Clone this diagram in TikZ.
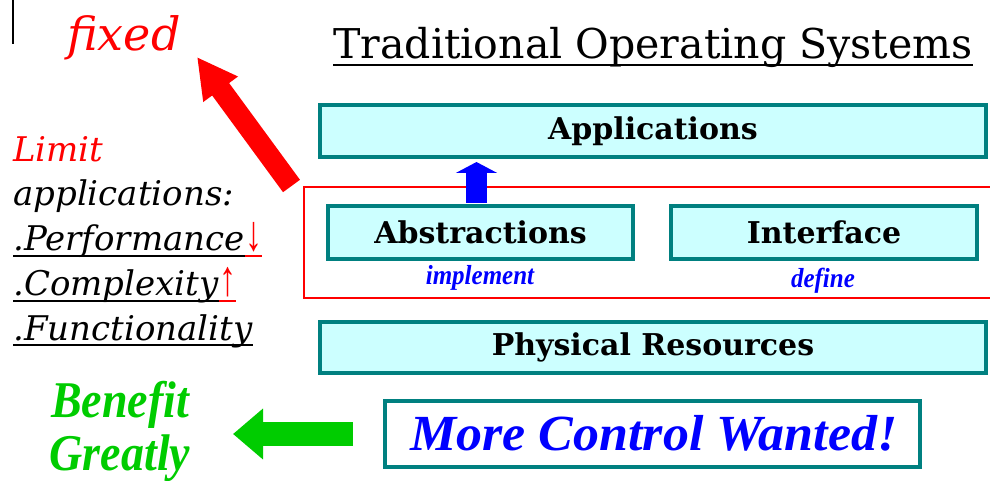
\documentclass[tikz,border=0pt]{standalone}
\usepackage{fontspec}
\setmainfont{DejaVu Serif}
\newfontfamily\timesf{Liberation Serif}
\newfontfamily\symf{DejaVu Sans}
\usetikzlibrary{arrows.meta,calc}
\definecolor{boxfill}{HTML}{CCFFFF}
\definecolor{tealb}{HTML}{008080}
\definecolor{redc}{HTML}{FF0000}
\definecolor{bluec}{HTML}{0000FF}
\definecolor{greenc}{HTML}{00CC00}
\begin{document}
\begin{tikzpicture}[x=0.75pt,y=-0.75pt,
  layer/.style={draw=tealb, line width=2.6pt, fill=boxfill, inner sep=0pt,
    font=\fontsize{22.5}{26}\selectfont\bfseries},
  lefttxt/.style={anchor=base west, inner sep=0pt, font=\fontsize{25.5}{28}\selectfont\itshape},
  arrsym/.style={anchor=base west, inner sep=0pt, text=redc, font=\fontsize{30}{32}\selectfont\timesf\itshape},
  ulin/.style={line width=1.5pt},
  note/.style={anchor=base, inner sep=0pt, text=bluec, font=\fontsize{18.75}{22}\selectfont\timesf\bfseries\itshape},
  greenlbl/.style={anchor=base, inner sep=0pt, text=greenc, font=\fontsize{34.5}{38}\selectfont\timesf\bfseries\itshape}
]
\useasboundingbox[fill=white] (0,0) rectangle (990,481);

% cursor mark
\draw[line width=1.1pt] (13,0) -- (13,44);

% fixed
\node[anchor=base west, inner sep=0pt, text=redc, font=\fontsize{34.5}{38}\selectfont\itshape] (fixed) at (67,51) {fixed};

% title
\node[anchor=base west, inner sep=0pt, font=\fontsize{30.8}{34}\selectfont] (title) at (333,59) {Traditional Operating Systems};
\draw[ulin] ($(title.base west)+(0,6)$) -- ($(title.base east)+(0,6)$);

% red group rectangle
\draw[draw=redc, line width=1.9pt] (1000,187) -- (304,187) -- (304,298) -- (1000,298);

% layers
\node[layer, minimum width={666*0.75pt}, minimum height={52*0.75pt}] (app) at (653,131) {Applications};
\node[layer, minimum width={305*0.75pt}, minimum height={53*0.75pt}] (abs) at (480.5,232.5) {Abstractions};
\node[layer, minimum width={306*0.75pt}, minimum height={53*0.75pt}] (intf) at (824,232.5) {Interface};
\node[layer, minimum width={666*0.75pt}, minimum height={51*0.75pt}] (phys) at (653,347.5) {Physical Resources};
\node[draw=tealb, line width=2.6pt, fill=white, inner sep=0pt,
  minimum width={535*0.75pt}, minimum height={66*0.75pt}] (more) at (652.5,434) {};
\node[inner sep=0pt, anchor=base, text=bluec, font=\fontsize{34.5}{38}\selectfont\timesf\bfseries\itshape] (moretxt) at (654,450) {\scalebox{1.13}[1.1]{More Control Wanted!}};

\node[note] (impl) at (480,285) {\scalebox{1}[1.1]{implement}};
\node[note] (def) at (823,287) {\scalebox{1}[1.1]{define}};

% blue arrow
\coordinate (bluetail) at (476.5,203);
\coordinate (bluetip) at (476.5,162);
\draw[draw=bluec, line width={21*0.75pt}, -{Triangle[length={11*0.75pt}, width={41*0.75pt}]}] (bluetail) -- (bluetip);

% red arrow
\coordinate (redtail) at (291.5,186);
\coordinate (redtip) at (197,57);
\draw[draw=redc, line width={21*0.75pt}, -{Triangle[length={40*0.75pt}, width={40*0.75pt}]}] (redtail) -- (redtip);

% green arrow
\coordinate (greentail) at (353,434);
\coordinate (greentip) at (233,434);
\draw[draw=greenc, line width={24*0.75pt}, -{Triangle[length={30*0.75pt}, width={49*0.75pt}]}] (greentail) -- (greentip);

% left text
\node[lefttxt, text=redc] (limit) at (13,162) {Limit};
\node[lefttxt] (apps) at (13,206) {applications:};
\node[lefttxt] (perf) at (13,251) {.Performance};
\node[arrsym] (perfarr) at (perf.base east) {\scalebox{0.85}[1.25]{↓}};
\draw[ulin] ($(perf.base west)+(0,5)$) -- ($(perf.base east)+(0,5)$);
\draw[ulin, draw=redc] ($(perf.base east)+(0,5)$) -- ($(perfarr.base east)+(0,5)$);
\node[lefttxt] (comp) at (13,296) {.Complexity};
\node[arrsym] (comparr) at (comp.base east) {\scalebox{0.85}[1.25]{↑}};
\draw[ulin] ($(comp.base west)+(0,5)$) -- ($(comp.base east)+(0,5)$);
\draw[ulin, draw=redc] ($(comp.base east)+(0,5)$) -- ($(comparr.base east)+(0,5)$);
\node[lefttxt] (func) at (13,340) {.Functionality};
\draw[ulin] ($(func.base west)+(0,5)$) -- ($(func.base east)+(0,5)$);

% benefit
\node[greenlbl] (benefit) at (120,417) {\scalebox{1}[1.12]{Benefit}};
\node[greenlbl] (greatly) at (120,470) {\scalebox{1}[1.12]{Greatly}};
\end{tikzpicture}
\end{document}
